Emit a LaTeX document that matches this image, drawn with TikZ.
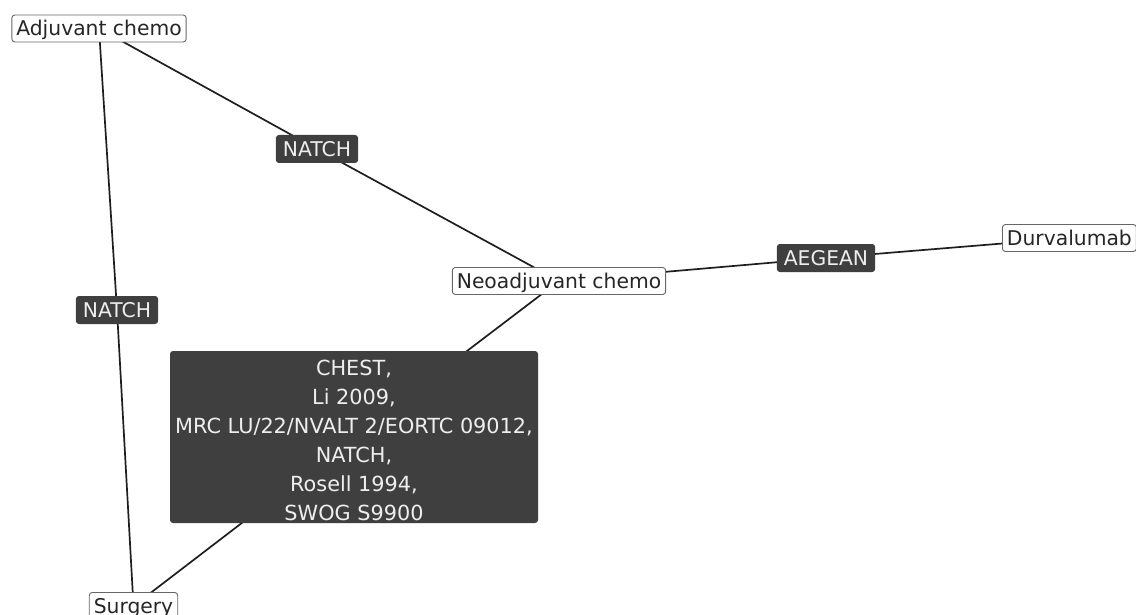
\documentclass[tikz,border=0pt]{standalone}
\usepackage{fontspec}
\setmainfont{DejaVu Sans}
\usetikzlibrary{backgrounds}
\definecolor{labfill}{HTML}{3F3F3F}
\definecolor{labtext}{HTML}{EEEEEE}
\definecolor{boxline}{HTML}{666666}
\definecolor{edgecol}{HTML}{1E1E1E}
\tikzset{
  treat/.style={draw=boxline, fill=white, rounded corners=3pt, line width=0.9pt,
    inner xsep=4.5pt, inner ysep=4pt, text height=17pt, text depth=2pt,
    font=\fontsize{20.3}{24}\selectfont, text=black!85},
  trial/.style={fill=labfill, text=labtext, rounded corners=3pt,
    inner xsep=7pt, inner ysep=4.5pt, text height=17pt, text depth=2pt,
    font=\fontsize{20.3}{24}\selectfont},
  trialbox/.style={fill=labfill, rounded corners=3pt,
    minimum width=368pt, minimum height=172pt, inner sep=0pt},
  trialtext/.style={text=labtext, align=center, inner sep=0pt,
    font=\fontsize{20.8}{29}\selectfont},
  link/.style={draw=edgecol, line width=1.7pt}
}
\begin{document}
\begin{tikzpicture}[x=1pt,y=-1pt]
\useasboundingbox (0,0) rectangle (1136,615);
\node[treat] (adj) at (99,28.5) {Adjuvant chemo};
\node[treat] (neo) at (559,281) {Neoadjuvant chemo};
\node[treat, anchor=west] (dur) at (1002,238) {Durvalumab};
\node[treat] (sur) at (133.5,606) {Surgery};
\node[trial] (natchA) at (317,149) {NATCH};
\node[trial] (natchB) at (117,310) {NATCH};
\node[trial] (aegean) at (826,258) {AEGEAN};
\node[trialbox] (multi) at (354,437) {};
\node[trialtext] (multitext) at ([yshift=-3pt]multi.center) {CHEST,\\Li 2009,\\MRC LU/22/NVALT 2/EORTC 09012,\\NATCH,\\Rosell 1994,\\SWOG S9900};
\begin{pgfonlayer}{background}
\draw[link] (adj.center) -- (natchA.center) -- (neo.center);
\draw[link] (adj.center) -- (natchB.center) -- (sur.center);
\draw[link] (neo.center) -- (aegean.center) -- (dur.center);
\draw[link] (neo.center) -- (multi.center) -- (sur.center);
\end{pgfonlayer}
\end{tikzpicture}
\end{document}
